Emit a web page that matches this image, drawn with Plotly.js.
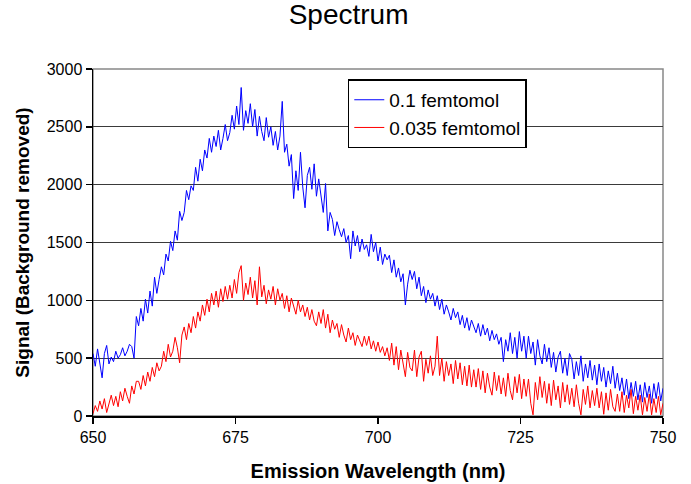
<!DOCTYPE html>
<html>
<head>
<meta charset="utf-8">
<script src="https://cdn.plot.ly/plotly-3.0.1.min.js"></script>
<style>html,body{margin:0;padding:0;background:#fff;}#chart{width:691px;height:484px;}</style>
</head>
<body>
<div id="chart"></div>
<script>
// Wavelength sampling: start 650 nm, step 0.4 nm (251 samples)
var startNm = 650;
var stepNm = 0.4;
var seriesNames = ["0.1 femtomol", "0.035 femtomol"];
var xTicks = [650, 675, 700, 725, 750];
var yTicks = [0, 500, 1000, 1500, 2000, 2500, 3000];

// 0.1 femtomol (each row = 4 nm)
var blue = [
 540,430,580,470,330,540,610,450,510,470,
 560,500,530,590,520,560,620,600,500,860,
 780,930,820,1010,890,1080,950,1200,1060,1180,
 1290,1220,1400,1340,1510,1430,1600,1520,1770,1690,
 1760,1950,1870,1990,1950,2150,2030,2220,2120,2300,
 2230,2400,2280,2420,2330,2470,2300,2400,2520,2380,
 2450,2600,2480,2680,2520,2840,2470,2640,2530,2700,
 2500,2650,2420,2590,2460,2380,2580,2410,2500,2340,
 2460,2300,2420,2720,2280,2350,2160,2260,1880,2120,
 1950,2280,1980,1800,2080,2150,1960,2180,1900,2050,
 1900,1760,2010,1600,1760,1700,1560,1680,1610,1550,
 1620,1500,1560,1360,1600,1470,1560,1420,1530,1440,
 1480,1380,1570,1420,1500,1340,1460,1310,1400,1350,
 1390,1240,1350,1200,1280,1160,1230,960,1140,1260,
 1180,1250,1100,1200,1040,1120,980,1090,1010,1060,
 950,1040,920,1010,880,960,900,830,930,850,
 900,790,870,760,850,740,830,770,720,800,
 690,790,700,760,650,740,660,710,620,680,
 470,660,560,720,540,680,500,730,560,690,
 500,690,540,640,440,660,520,450,620,470,
 590,420,550,380,510,560,370,500,350,540,
 490,320,470,350,520,300,450,330,480,310,
 440,270,450,300,420,250,390,280,430,240,
 370,220,330,180,320,150,290,170,300,140,
 270,120,290,160,260,110,280,150,290,130,
 240
];

// 0.035 femtomol (each row = 4 nm)
var red = [
 20,90,40,130,60,150,30,110,180,90,
 170,80,210,130,240,170,110,260,190,300,
 300,230,350,260,380,300,420,340,460,390,
 430,560,470,620,510,560,680,590,460,700,
 770,660,800,720,860,760,900,820,960,870,
 1010,900,1060,960,1080,940,1100,990,1120,1010,
 1130,1020,1180,1060,1240,1300,1000,1150,1050,1200,
 1020,1170,960,1290,1030,1130,970,1090,1010,1120,
 960,1100,1000,1060,930,1040,900,1020,960,880,
 1000,900,960,860,940,830,920,820,780,900,
 800,920,760,880,720,830,750,800,680,790,
 700,640,760,660,720,610,700,640,600,690,
 610,690,580,650,560,640,550,600,520,590,
 480,630,440,600,400,570,460,340,550,420,
 390,570,340,510,560,300,490,370,520,350,
 430,690,350,500,300,470,350,450,280,480,
 320,460,270,430,260,440,250,400,250,410,
 230,390,200,370,250,180,380,220,350,190,
 330,170,370,220,140,340,200,360,150,320,
 170,320,110,10,290,140,340,160,300,110,
 280,90,310,140,260,70,290,120,270,100,
 240,80,270,110,10,230,100,260,70,220,
 90,240,70,210,15,200,50,230,80,40,
 190,40,210,30,180,70,230,20,170,50,
 180,10,160,40,190,10,150,30,170,10,
 110
];

var font = "Arial, 'Liberation Sans', sans-serif";

var traces = [
  {y: blue, x0: startNm, dx: stepNm, type: "scatter", mode: "lines", name: seriesNames[0],
   line: {color: "#0000ff", width: 1}},
  {y: red, x0: startNm, dx: stepNm, type: "scatter", mode: "lines", name: seriesNames[1],
   line: {color: "#ff0000", width: 1}}
];

var layout = {
  width: 691, height: 484,
  margin: {l: 93, r: 28, t: 69, b: 68},
  paper_bgcolor: "#fff", plot_bgcolor: "#fff",
  font: {family: font, color: "#000", size: 16},
  title: {text: "Spectrum", font: {family: font, size: 28, color: "#000"},
          xref: "container", x: 0.5045, xanchor: "center", yref: "container", y: 0.97, yanchor: "middle"},
  showlegend: true,
  legend: {x: 0.447, y: 0.97, xanchor: "left", yanchor: "top",
           bordercolor: "#000", borderwidth: 1.5, bgcolor: "#fff",
           font: {family: font, size: 19, color: "#000"},
           tracegroupgap: 0, itemwidth: 30},
  xaxis: {range: [650, 750], tickvals: xTicks, ticktext: xTicks.map(String),
          showgrid: false, zeroline: false, showline: true, linecolor: "#000", linewidth: 1.5,
          ticks: "outside", ticklen: 6, tickcolor: "#000", tickwidth: 1.5,
          tickfont: {family: font, size: 16, color: "#000"},
          title: {text: "<b>Emission Wavelength (nm)</b>", font: {family: font, size: 20, color: "#000"}, standoff: 19}},
  yaxis: {range: [0, 3000], tickvals: yTicks, ticktext: yTicks.map(String),
          showgrid: true, gridcolor: "#3a3a3a", gridwidth: 1, zeroline: false,
          showline: true, linecolor: "#000", linewidth: 1.5,
          ticks: "outside", ticklen: 6, tickcolor: "#000", tickwidth: 1.5,
          tickfont: {family: font, size: 16, color: "#000"},
          title: {text: "<b>Signal (Background removed)</b>", font: {family: font, size: 19, color: "#000"}, standoff: 12}},
  shapes: [{type: "rect", xref: "paper", yref: "paper", x0: 0, x1: 1, y0: 0, y1: 1,
            line: {color: "#888", width: 1.5}, layer: "below"}]
};

Plotly.newPlot("chart", traces, layout, {displayModeBar: false, staticPlot: true});
</script>
</body>
</html>
